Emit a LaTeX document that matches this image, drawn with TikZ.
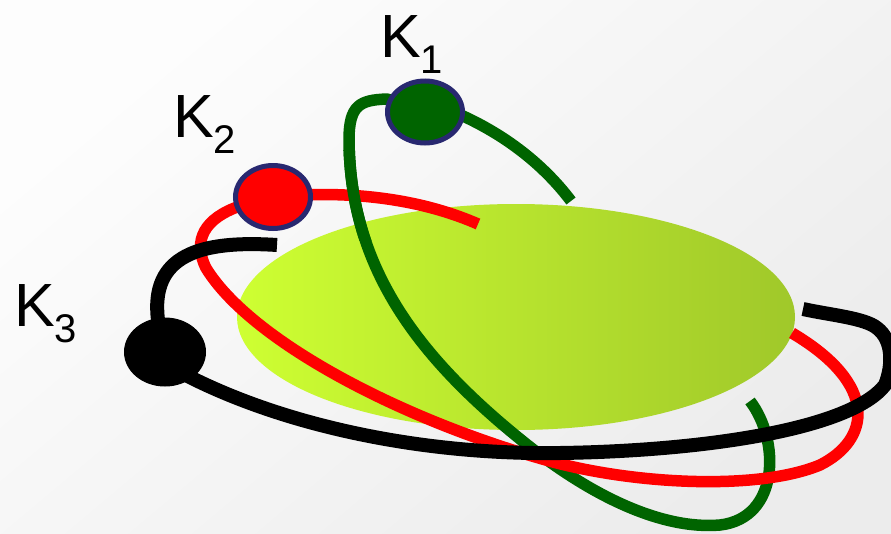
\documentclass[tikz,border=0pt]{standalone}
\usepackage{fontspec}
\setmainfont{Liberation Sans}
\usetikzlibrary{shapes.geometric}

\definecolor{orbitgreen}{RGB}{0,100,0}
\definecolor{orbitred}{RGB}{255,0,0}
\definecolor{ringnavy}{RGB}{40,40,112}
\definecolor{coreleft}{RGB}{206,255,50}
\definecolor{coreright}{RGB}{160,200,42}
\definecolor{bgtop}{RGB}{253,253,253}
\definecolor{bgbottom}{RGB}{236,236,236}

\tikzset{
  orbit/.style={line width=#1, line join=round},
  greenorbit/.style={orbit=11.5pt, draw=orbitgreen},
  redorbit/.style={orbit=11.5pt, draw=orbitred},
  blackorbit/.style={orbit=14pt, draw=black},
  ball/.style={ellipse, inner sep=0pt, outer sep=0pt, line width=5pt, draw=ringnavy},
  klabel/.style={anchor=base west, inner sep=0pt, font=\fontsize{61}{61}\selectfont},
}
\newcommand{\subidx}[1]{\raisebox{-16pt}{\fontsize{40}{40}\selectfont #1}}
% long green orbit, from the ball round the bottom of the core
\newcommand{\greenmain}{(c1) -- (387,99) .. controls (360,100) and (349,105) .. (349,140)
  .. controls (350,270) and (420,360) .. (530,447)
  .. controls (590,494) and (660,530) .. (720,525)
  .. controls (780,518) and (780,440) .. (750,401)}

\begin{document}
\begin{tikzpicture}[x=1pt, y=-1pt]
  \useasboundingbox (0,0) rectangle (891,533);
  \clip (0,0) rectangle (891,533);
  % soft grey backdrop
  \shade[top color=bgtop, bottom color=bgbottom, shading angle=40] (0,0) rectangle (891,533);

  % ball positions
  \coordinate (c1) at (425,112);
  \coordinate (c2) at (273,197);
  \coordinate (c3) at (165,352);

  % the core
  \shade[left color=coreleft, right color=coreright] (516,317) ellipse [x radius=279, y radius=113];

  % green orbit
  \draw[greenorbit] (c1) -- (463,116) .. controls (500,133) and (540,160) .. (571,201);
  \draw[greenorbit] \greenmain;

  % red orbit
  \draw[redorbit] (c2) -- (300,195) .. controls (370,192) and (430,203) .. (478,224);
  \draw[redorbit] (c2) -- (240,206) .. controls (205,218) and (192,240) .. (206,268)
    .. controls (250,340) and (400,420) .. (553,462)
    .. controls (640,485) and (760,490) .. (820,465)
    .. controls (870,440) and (880,385) .. (792,333);

  % green passes in front of the red at the top
  \begin{scope}
    \clip (320,150) rectangle (390,240);
    \draw[greenorbit] \greenmain;
  \end{scope}

  % black orbit
  \draw[blackorbit] (c3) -- (158,320) .. controls (150,255) and (200,240) .. (277,245);
  \draw[blackorbit] (c3) -- (180,372) .. controls (280,425) and (420,455) .. (560,453)
    .. controls (700,451) and (850,430) .. (885,385)
    .. controls (893,365) and (893,340) .. (877,328)
    .. controls (865,318) and (830,315) .. (803,309);

  % the three balls
  \node[ball, fill=orbitgreen, minimum width=75pt, minimum height=62pt] (k1) at (c1) {};
  \node[ball, fill=orbitred, minimum width=75pt, minimum height=63pt] (k2) at (c2) {};
  \node[ball, fill=black, draw=black, line width=1pt, minimum width=81pt, minimum height=68pt] (k3) at (c3) {};

  % labels
  \node[klabel] (l1) at (380,57) {K\subidx{1}};
  \node[klabel] (l2) at (173,137) {K\subidx{2}};
  \node[klabel] (l3) at (14,326) {K\subidx{3}};
\end{tikzpicture}
\end{document}
